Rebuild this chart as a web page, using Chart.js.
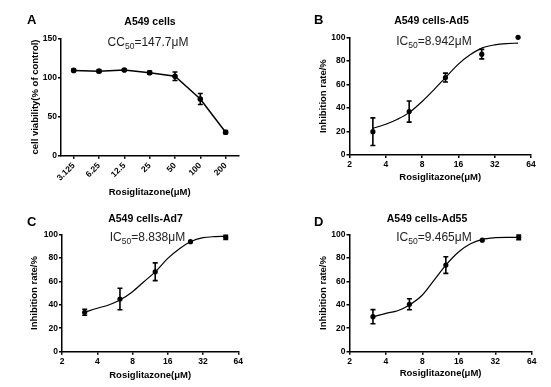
<!DOCTYPE html>
<html>
<head>
<meta charset="utf-8">
<script src="https://cdn.jsdelivr.net/npm/chart.js@4.4.1/dist/chart.umd.min.js"></script>
<style>
  html, body { margin:0; padding:0; background:#fff; overflow:hidden; }
  #wrap { position:relative; width:551px; height:387px; font-family:"Liberation Sans", Arial, sans-serif; color:#000; }
  canvas { position:absolute; }
  .lbl { position:absolute; white-space:nowrap; line-height:1; }
  .letter { font-weight:bold; font-size:13px; }
  .ttl { font-weight:bold; font-size:10.5px; transform:translate(-50%,-50%); }
  .ic { font-size:12px; color:#222; transform:translate(-50%,-50%); }
  .ic sub { font-size:8.5px; vertical-align:-3px; line-height:0; }
</style>
</head>
<body>
<div id="wrap">
  <canvas id="cA" width="275" height="200" style="left:0;top:0"></canvas>
  <canvas id="cB" width="276" height="200" style="left:275px;top:0"></canvas>
  <canvas id="cC" width="275" height="192" style="left:0;top:195px"></canvas>
  <canvas id="cD" width="276" height="192" style="left:275px;top:195px"></canvas>

  <div class="lbl letter" style="left:27px;top:13px">A</div>
  <div class="lbl letter" style="left:314px;top:13px">B</div>
  <div class="lbl letter" style="left:27px;top:215px">C</div>
  <div class="lbl letter" style="left:314px;top:215px">D</div>

  <div class="lbl ttl" style="left:150px;top:20.5px">A549 cells</div>
  <div class="lbl ttl" style="left:431.5px;top:19.5px">A549 cells-Ad5</div>
  <div class="lbl ttl" style="left:145.5px;top:218px">A549 cells-Ad7</div>
  <div class="lbl ttl" style="left:427px;top:218px">A549 cells-Ad55</div>

  <div class="lbl ic" style="left:148px;top:41.5px">CC<sub>50</sub>=147.7μM</div>
  <div class="lbl ic" style="left:434px;top:40.5px">IC<sub>50</sub>=8.942μM</div>
  <div class="lbl ic" style="left:147.5px;top:237px">IC<sub>50</sub>=8.838μM</div>
  <div class="lbl ic" style="left:434px;top:236.5px">IC<sub>50</sub>=9.465μM</div>
</div>
<script>
// ---------- data ----------
const concLabelsA = ['3.125', '6.25', '12.5', '25', '50', '100', '200'];
const viability    = [109, 108, 109.5, 106, 101.5, 72.5, 30];
const viabilityErr = [1.5, 1.5, 1, 2, 5.5, 7, 2];

const dose = [3.125, 6.25, 12.5, 25, 50];
const ad5  = [19.8, 36.9, 65.8, 85.7, 100];
const ad5Err = [11.7, 9, 3.8, 4, 0];
const ad7  = [33.6, 44.9, 68.1, 93.7, 97.4];
const ad7Err = [2.5, 9.2, 7.6, 0, 1.8];
const ad55 = [29.8, 40.4, 73.8, 95, 97.4];
const ad55Err = [6, 4.7, 7.1, 0, 2];

const fitDose = [3.125, 4, 5, 6.25, 8, 10, 12.5, 16, 20, 25, 32, 40, 50];
const ad5Fit  = [22.7, 26.1, 30.4, 36, 45.4, 55.3, 65.8, 77.2, 85.1, 90.8, 93.6, 94.7, 95];
const ad7Fit  = [33.6, 37, 39.8, 44, 51.1, 59.6, 68, 79.5, 87.5, 93.7, 97.1, 98, 98.2];
const ad55Fit = [29.8, 32.7, 34.9, 39.8, 48.3, 61, 73.8, 85.2, 92, 95.7, 97.1, 97.4, 97.4];

const logTicks = [2, 4, 8, 16, 32, 64];
const yTicksA = [0, 50, 100, 150];
const yTicksI = [0, 20, 40, 60, 80, 100];

// ---------- helpers ----------
Chart.defaults.font.family = '"Liberation Sans", Arial, sans-serif';
Chart.defaults.color = '#000';

const errorBarPlugin = {
  id: 'errorBars',
  afterDatasetsDraw(chart) {
    const ctx = chart.ctx, ys = chart.scales.y;
    chart.data.datasets.forEach((ds, i) => {
      if (!ds.errorBars) return;
      const meta = chart.getDatasetMeta(i);
      ctx.save();
      ctx.strokeStyle = '#000';
      ctx.lineWidth = 1.6;
      meta.data.forEach((pt, j) => {
        const e = ds.errorBars[j];
        if (!e) return;
        const d = ds.data[j];
        const v = (typeof d === 'object') ? d.y : d;
        const y1 = ys.getPixelForValue(v + e), y2 = ys.getPixelForValue(v - e);
        const x = pt.x;
        ctx.beginPath();
        ctx.moveTo(x, y1); ctx.lineTo(x, y2);
        ctx.moveTo(x - 2.5, y1); ctx.lineTo(x + 2.5, y1);
        ctx.moveTo(x - 2.5, y2); ctx.lineTo(x + 2.5, y2);
        ctx.stroke();
      });
      ctx.restore();
    });
  }
};

function axisCommon() {
  return {
    border: { display: true, color: '#000', width: 1.5 },
    grid: { display: true, drawOnChartArea: false, drawTicks: true, tickLength: 3, color: '#000', lineWidth: 1.5, offset: false },
  };
}

function yAxis(ticks, max, title, w) {
  return Object.assign(axisCommon(), {
    type: 'linear', min: 0, max: max,
    afterBuildTicks: s => { s.ticks = ticks.map(v => ({ value: v })); },
    afterFit: s => { s.width = w; },
    ticks: { font: { size: 8.5, weight: 'bold' }, color: '#000', padding: 1 },
    title: { display: true, text: title, font: { size: 9.5, weight: 'bold' }, color: '#000', padding: 0 }
  });
}

function logX(h) {
  return Object.assign(axisCommon(), {
    type: 'logarithmic', min: 2, max: 64,
    afterBuildTicks: s => { s.ticks = logTicks.map(v => ({ value: v })); },
    afterFit: s => { s.height = h; },
    ticks: { font: { size: 8.5, weight: 'bold' }, color: '#000', padding: 2, autoSkip: false, maxRotation: 0,
             callback: v => String(v) },
    title: { display: true, text: 'Rosiglitazone(μM)', font: { size: 9.5, weight: 'bold' }, color: '#000', padding: 0 }
  });
}

function doseChart(id, pts, err, fit, pad, yW, xH) {
  new Chart(document.getElementById(id), {
    type: 'scatter',
    data: {
      datasets: [
        { data: fitDose.map((x, i) => ({ x: x, y: fit[i] })), showLine: true, borderColor: '#000', borderWidth: 1.2,
          pointRadius: 0, cubicInterpolationMode: 'monotone', clip: false },
        { data: dose.map((x, i) => ({ x: x, y: pts[i] })), showLine: false, pointRadius: 2.6,
          backgroundColor: '#000', borderColor: '#000', borderWidth: 0, errorBars: err, clip: false }
      ]
    },
    options: {
      responsive: false, animation: false, devicePixelRatio: 1,
      layout: { padding: pad },
      plugins: { legend: { display: false }, tooltip: { enabled: false } },
      scales: { x: logX(xH), y: yAxis(yTicksI, 100, 'Inhibition rate/%', yW) }
    },
    plugins: [errorBarPlugin]
  });
}

// ---------- panel A ----------
new Chart(document.getElementById('cA'), {
  type: 'line',
  data: {
    labels: concLabelsA,
    datasets: [{ data: viability, borderColor: '#000', borderWidth: 1.5, pointRadius: 2.8,
                 pointBackgroundColor: '#000', pointBorderWidth: 0, tension: 0, errorBars: viabilityErr, clip: false }]
  },
  options: {
    responsive: false, animation: false, devicePixelRatio: 1,
    layout: { padding: { left: 29.6, right: 36.7, top: 38.3, bottom: 1.6 } },
    plugins: { legend: { display: false }, tooltip: { enabled: false } },
    scales: {
      x: Object.assign(axisCommon(), {
        type: 'category', offset: true,
        afterFit: s => { s.height = 42.7; },
        ticks: { font: { size: 8.5, weight: 'bold' }, color: '#000', padding: 2, autoSkip: false, minRotation: 45, maxRotation: 45 },
        title: { display: true, text: 'Rosiglitazone(μM)', font: { size: 9.5, weight: 'bold' }, color: '#000', padding: 0 }
      }),
      y: yAxis(yTicksA, 150, 'cell viability(% of control)', 31.4)
    }
  },
  plugins: [errorBarPlugin]
});

// ---------- panels B, C, D ----------
doseChart('cB', ad5, ad5Err, ad5Fit, { left: 42.9, right: 20, top: 37.3, bottom: 17.1 }, 31.6, 27.9);
doseChart('cC', ad7, ad7Err, ad7Fit, { left: 28.9, right: 36.7, top: 39.3, bottom: 6.1 }, 33.1, 29.2);
doseChart('cD', ad55, ad55Err, ad55Fit, { left: 42.9, right: 19.3, top: 39.3, bottom: 7.9 }, 31.6, 27.4);
</script>
</body>
</html>
